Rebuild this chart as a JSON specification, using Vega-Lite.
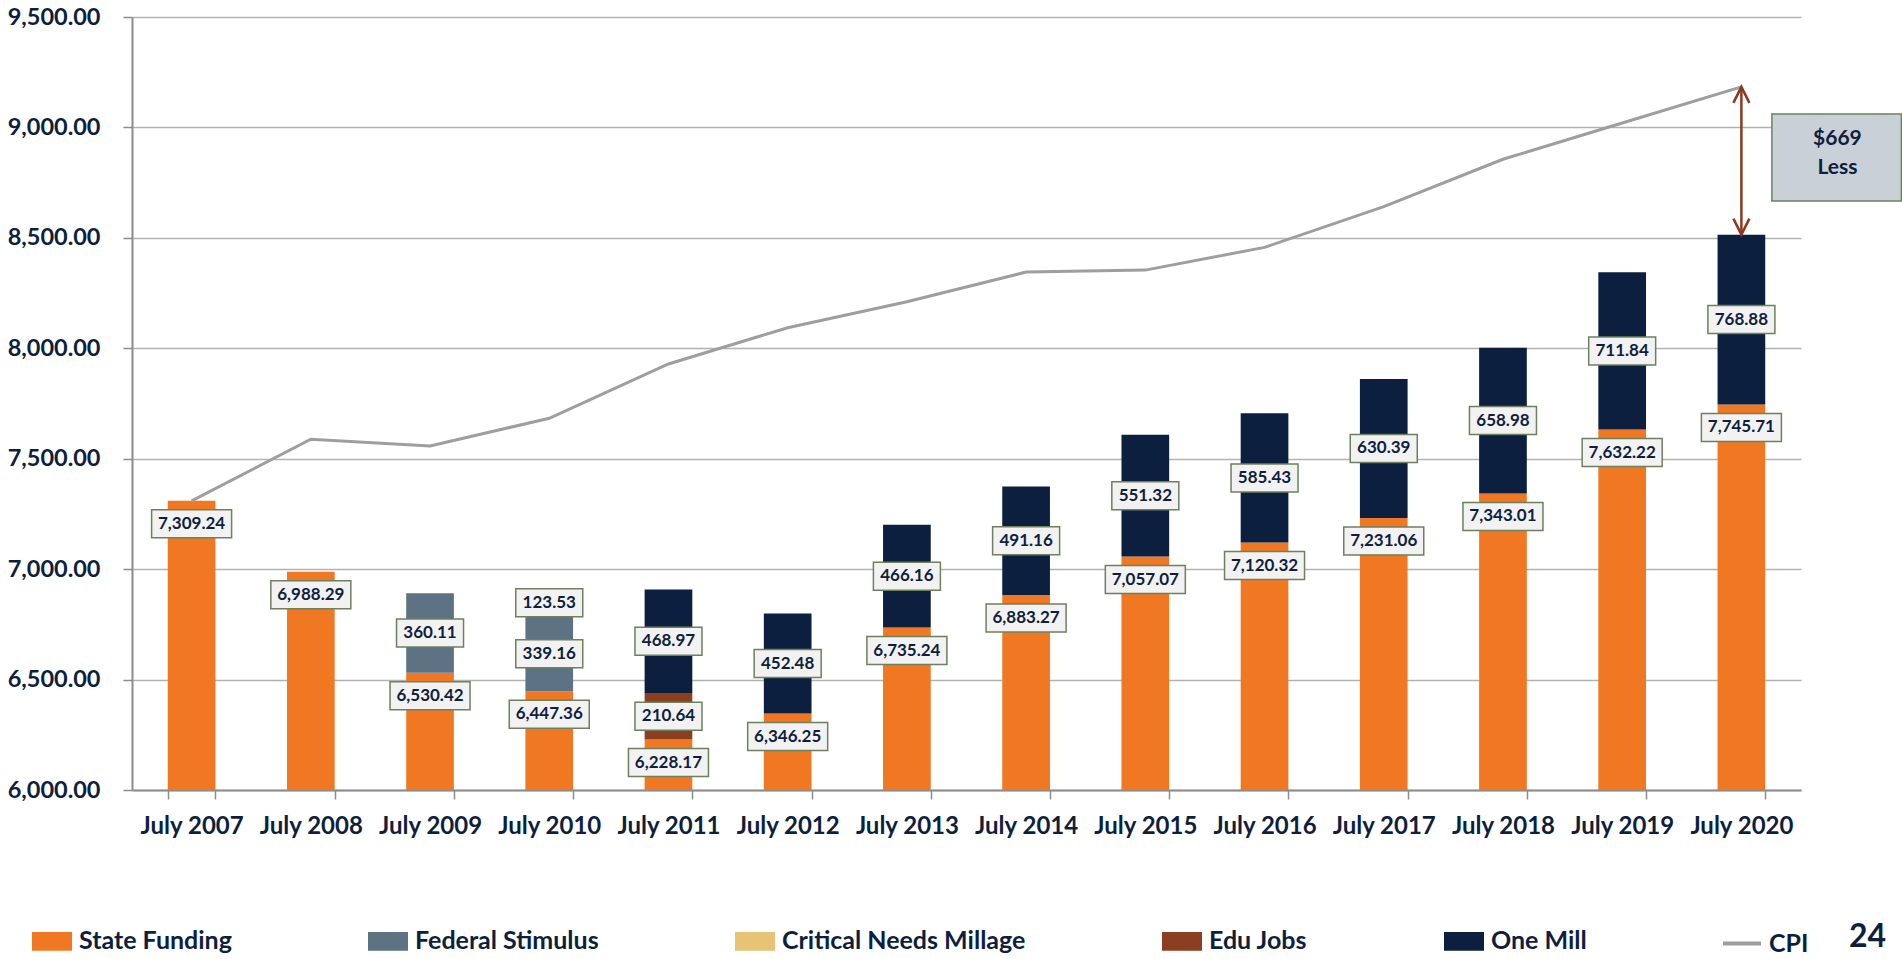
{
  "$schema": "https://vega.github.io/schema/vega-lite/v6.json",
  "width": 1669,
  "height": 773,
  "autosize": {"type": "none"},
  "padding": {"left": 132, "top": 17, "right": 101, "bottom": 169},
  "background": "#ffffff",
  "config": {
    "font": "Lato",
    "view": {"stroke": null},
    "axis": {
      "labelFont": "Lato",
      "labelFontWeight": "bold",
      "labelColor": "#0E1F3D",
      "domainColor": "#8C8C8C",
      "domainWidth": 2,
      "tickColor": "#8C8C8C",
      "tickWidth": 1.5,
      "tickSize": 9,
      "title": null
    },
    "title": {"font": "Lato", "fontSize": 32, "fontWeight": "bold", "color": "#0E1F3D"}
  },
  "title": {"text": "24", "orient": "bottom", "anchor": "end", "frame": "group", "dx": 85, "offset": -37},
  "datasets": {
    "funding": [
      {"year": "July 2007", "series": "State Funding", "value": 7309.24},
      {"year": "July 2008", "series": "State Funding", "value": 6988.29},
      {"year": "July 2009", "series": "State Funding", "value": 6530.42},
      {"year": "July 2009", "series": "Federal Stimulus", "value": 360.11},
      {"year": "July 2010", "series": "State Funding", "value": 6447.36},
      {"year": "July 2010", "series": "Federal Stimulus", "value": 339.16},
      {"year": "July 2010", "series": "Critical Needs Millage", "value": 123.53},
      {"year": "July 2011", "series": "State Funding", "value": 6228.17},
      {"year": "July 2011", "series": "Edu Jobs", "value": 210.64},
      {"year": "July 2011", "series": "One Mill", "value": 468.97},
      {"year": "July 2012", "series": "State Funding", "value": 6346.25},
      {"year": "July 2012", "series": "One Mill", "value": 452.48},
      {"year": "July 2013", "series": "State Funding", "value": 6735.24},
      {"year": "July 2013", "series": "One Mill", "value": 466.16},
      {"year": "July 2014", "series": "State Funding", "value": 6883.27},
      {"year": "July 2014", "series": "One Mill", "value": 491.16},
      {"year": "July 2015", "series": "State Funding", "value": 7057.07},
      {"year": "July 2015", "series": "One Mill", "value": 551.32},
      {"year": "July 2016", "series": "State Funding", "value": 7120.32},
      {"year": "July 2016", "series": "One Mill", "value": 585.43},
      {"year": "July 2017", "series": "State Funding", "value": 7231.06},
      {"year": "July 2017", "series": "One Mill", "value": 630.39},
      {"year": "July 2018", "series": "State Funding", "value": 7343.01},
      {"year": "July 2018", "series": "One Mill", "value": 658.98},
      {"year": "July 2019", "series": "State Funding", "value": 7632.22},
      {"year": "July 2019", "series": "One Mill", "value": 711.84},
      {"year": "July 2020", "series": "State Funding", "value": 7745.71},
      {"year": "July 2020", "series": "One Mill", "value": 768.88}
    ],
    "cpi": [
      {"year": "July 2007", "cpi": 7309.24},
      {"year": "July 2008", "cpi": 7588},
      {"year": "July 2009", "cpi": 7558},
      {"year": "July 2010", "cpi": 7683},
      {"year": "July 2011", "cpi": 7929},
      {"year": "July 2012", "cpi": 8093},
      {"year": "July 2013", "cpi": 8211},
      {"year": "July 2014", "cpi": 8345},
      {"year": "July 2015", "cpi": 8354},
      {"year": "July 2016", "cpi": 8457},
      {"year": "July 2017", "cpi": 8641},
      {"year": "July 2018", "cpi": 8856},
      {"year": "July 2019", "cpi": 9020},
      {"year": "July 2020", "cpi": 9183.6}
    ],
    "gap": [
      {"year": "July 2020", "low": 8514.59, "high": 9183.6, "note": "$669\nLess"}
    ]
  },
  "encoding": {
    "x": {
      "field": "year",
      "type": "nominal",
      "scale": {"paddingInner": 0.6, "paddingOuter": 0.3},
      "axis": {
        "labelAngle": 0,
        "labelFontSize": 24,
        "labelPadding": 15,
        "tickBand": "extent",
        "grid": false
      }
    }
  },
  "layer": [
    {
      "data": {"name": "funding"},
      "transform": [
        {"stack": "value", "groupby": ["year"], "as": ["y0", "y1"]}
      ],
      "mark": {"type": "bar", "clip": true},
      "encoding": {
        "y": {
          "field": "y0",
          "type": "quantitative",
          "scale": {"domain": [6000, 9500], "nice": false, "zero": false},
          "axis": {
            "values": [6000, 6500, 7000, 7500, 8000, 8500, 9000, 9500],
            "format": ",.2f",
            "labelFontSize": 23.5,
            "labelPadding": 23,
            "grid": true,
            "gridColor": "#B2B2B2",
            "gridWidth": 1.5
          }
        },
        "y2": {"field": "y1"},
        "color": {
          "field": "series",
          "type": "nominal",
          "scale": {
            "domain": ["State Funding", "Federal Stimulus", "Critical Needs Millage", "Edu Jobs", "One Mill", "CPI"],
            "range": ["#F07822", "#5D7282", "#E6C375", "#8B3E20", "#0C1F3E", "#9E9E9E"]
          },
          "legend": {
            "orient": "none",
            "legendX": -102,
            "legendY": 902,
            "direction": "horizontal",
            "title": null,
            "labelFont": "Lato",
            "labelFontSize": 25,
            "labelFontWeight": "bold",
            "labelColor": "#0E1F3D",
            "labelOffset": 5,
            "labelLimit": 400,
            "columnPadding": 128,
            "symbolSize": 1600,
            "symbolType": "M-1,-0.47H1V0.47H-1Z",
            "symbolStrokeWidth": 0,
            "symbolOpacity": 1,
            "encode": {
              "symbols": {
                "update": {
                  "shape": {"signal": "datum.value === 'CPI' ? 'M-0.95,0H0.95' : 'M-1,-0.47H1V0.47H-1Z'"},
                  "stroke": {"signal": "datum.value === 'CPI' ? '#9E9E9E' : 'transparent'"},
                  "strokeWidth": {"value": 4}
                }
              }
            }
          }
        }
      }
    },
    {
      "data": {"name": "cpi"},
      "mark": {"type": "line", "color": "#9E9E9E", "strokeWidth": 3},
      "encoding": {
        "y": {"field": "cpi", "type": "quantitative"}
      }
    },
    {
      "data": {"name": "funding"},
      "transform": [{"filter": "datum.series === 'State Funding'"}],
      "mark": {
        "type": "point",
        "shape": "M-40,9H40V37H-40Z",
        "size": 4,
        "filled": true,
        "fill": "#F2F2F2",
        "stroke": "#6E805E",
        "strokeWidth": 1.5,
        "opacity": 1
      },
      "encoding": {
        "y": {"field": "value", "type": "quantitative"}
      }
    },
    {
      "data": {"name": "funding"},
      "transform": [{"filter": "datum.series === 'State Funding'"}],
      "mark": {
        "type": "text",
        "dy": 23,
        "fontSize": 17,
        "fontWeight": "bold",
        "color": "#0E1F3D",
        "baseline": "middle"
      },
      "encoding": {
        "y": {"field": "value", "type": "quantitative"},
        "text": {"field": "value", "type": "quantitative", "format": ",.2f"}
      }
    },
    {
      "data": {"name": "funding"},
      "transform": [
        {"stack": "value", "groupby": ["year"], "as": ["y0", "y1"]},
        {"filter": "datum.series !== 'State Funding'"},
        {"fold": ["y0", "y1"], "as": ["k", "pos"]},
        {"aggregate": [{"op": "mean", "field": "pos", "as": "mid"}], "groupby": ["year", "series", "value"]}
      ],
      "layer": [
        {
          "mark": {
            "type": "point",
            "shape": "M-33.5,-14H33.5V14H-33.5Z",
            "size": 4,
            "filled": true,
            "fill": "#F2F2F2",
            "stroke": "#6E805E",
            "strokeWidth": 1.5,
            "opacity": 1
          },
          "encoding": {
            "y": {"field": "mid", "type": "quantitative"}
          }
        },
        {
          "mark": {
            "type": "text",
            "fontSize": 17,
            "fontWeight": "bold",
            "color": "#0E1F3D",
            "baseline": "middle"
          },
          "encoding": {
            "y": {"field": "mid", "type": "quantitative"},
            "text": {"field": "value", "type": "quantitative", "format": ",.2f"}
          }
        }
      ]
    },
    {
      "data": {"name": "gap"},
      "layer": [
        {
          "mark": {"type": "rule", "color": "#8B3A1E", "strokeWidth": 2.5},
          "encoding": {
            "y": {"field": "low", "type": "quantitative"},
            "y2": {"field": "high"}
          }
        },
        {
          "mark": {
            "type": "point",
            "shape": "M-8,16L0,0L8,16",
            "size": 4,
            "filled": false,
            "stroke": "#8B3A1E",
            "strokeWidth": 2.5,
            "opacity": 1
          },
          "encoding": {
            "y": {"field": "high", "type": "quantitative"}
          }
        },
        {
          "mark": {
            "type": "point",
            "shape": "M-8,-16L0,0L8,-16",
            "size": 4,
            "filled": false,
            "stroke": "#8B3A1E",
            "strokeWidth": 2.5,
            "opacity": 1
          },
          "encoding": {
            "y": {"field": "low", "type": "quantitative"}
          }
        },
        {
          "mark": {
            "type": "point",
            "shape": "M30.5,27H160V114H30.5Z",
            "size": 4,
            "filled": true,
            "fill": "#C9D0D7",
            "stroke": "#6E805E",
            "strokeWidth": 1.5,
            "opacity": 1
          },
          "encoding": {
            "y": {"field": "high", "type": "quantitative"}
          }
        },
        {
          "mark": {
            "type": "text",
            "dx": 96,
            "dy": 52,
            "fontSize": 21,
            "fontWeight": "bold",
            "color": "#0E1F3D",
            "align": "center",
            "baseline": "middle",
            "lineBreak": "\n",
            "lineHeight": 29
          },
          "encoding": {
            "y": {"field": "high", "type": "quantitative"},
            "text": {"field": "note"}
          }
        }
      ]
    }
  ]
}
